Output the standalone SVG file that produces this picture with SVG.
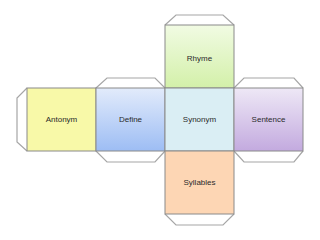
<svg xmlns="http://www.w3.org/2000/svg" width="320" height="240" viewBox="0 0 320 240">
<style>
.face{stroke:#8a8a8a;stroke-width:1}
.tab{fill:#fff;stroke:#a6a6a6;stroke-width:1.2}
text{font-family:"Liberation Sans",Arial,sans-serif;font-size:8px;fill:#2a2a2a;text-anchor:middle}
</style>
<defs>
<linearGradient id="gG" x1="0" y1="0" x2="0" y2="1"><stop offset="0" stop-color="#f1fbe3"/><stop offset="1" stop-color="#d3f0a9"/></linearGradient>
<linearGradient id="gB" x1="0" y1="0" x2="0" y2="1"><stop offset="0" stop-color="#e2ebfb"/><stop offset="1" stop-color="#9dbdf4"/></linearGradient>
<linearGradient id="gP" x1="0" y1="0" x2="0" y2="1"><stop offset="0" stop-color="#eee8f6"/><stop offset="1" stop-color="#c3aadf"/></linearGradient>
</defs>
<rect width="320" height="240" fill="#fff"/>
<g id="connectors">
<path class="tab" d="M165,25 L176,15 L223,15 L234,25"/>
<path class="tab" d="M96,88 L107,78 L155,78 L165,88"/>
<path class="tab" d="M96,151 L107,162 L155,162 L165,151"/>
<path class="tab" d="M234,88 L244,78 L294,78 L303,88"/>
<path class="tab" d="M234,151 L244,162 L294,162 L303,151"/>
<path class="tab" d="M165,214 L176,225 L223,225 L234,214"/>
<path class="tab" d="M27,88 L17,98 L17,142 L27,151"/>
</g>
<g id="rhyme"><rect class="face" x="165" y="25" width="69" height="63" fill="url(#gG)"/><text x="199.5" y="61">Rhyme</text></g>
<g id="antonym"><rect class="face" x="27" y="88" width="69" height="63" fill="#f8f9a8"/><text x="61.5" y="122">Antonym</text></g>
<g id="define"><rect class="face" x="96" y="88" width="69" height="63" fill="url(#gB)"/><text x="130.5" y="122">Define</text></g>
<g id="synonym"><rect class="face" x="165" y="88" width="69" height="63" fill="#daeef4"/><text x="199.5" y="122">Synonym</text></g>
<g id="sentence"><rect class="face" x="234" y="88" width="69" height="63" fill="url(#gP)"/><text x="268.5" y="122">Sentence</text></g>
<g id="syllables"><rect class="face" x="165" y="151" width="69" height="63" fill="#fdd6b4"/><text x="199.5" y="184.5">Syllables</text></g>
</svg>
